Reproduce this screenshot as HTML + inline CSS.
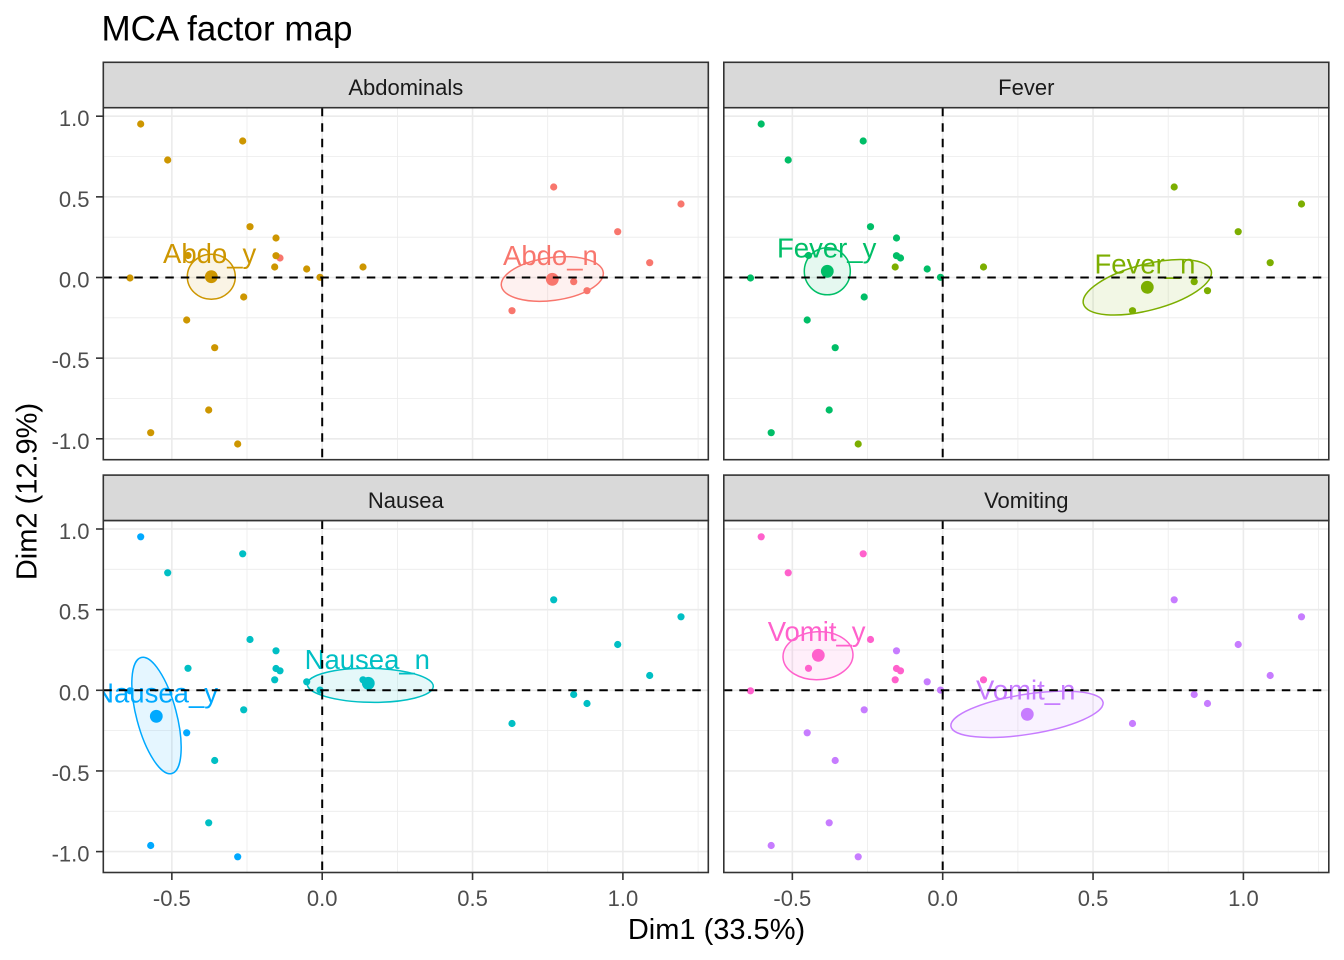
<!DOCTYPE html>
<html>
<head>
<meta charset="utf-8">
<style>
  html, body { margin:0; padding:0; background:#ffffff; }
  svg { display:block; }
  text { font-family: "Liberation Sans", Arial, sans-serif; }
</style>
</head>
<body>
<svg width="1344" height="960" viewBox="0 0 1344 960" xmlns="http://www.w3.org/2000/svg">
  <defs>
    <clipPath id="pc" clipPathUnits="userSpaceOnUse">
      <rect x="103.3" y="107.7" width="605" height="352"/>
    </clipPath>
    <g id="grid">
      <rect x="103.3" y="107.7" width="605" height="352" fill="#ffffff"/>
      <g stroke="#EBEBEB" stroke-width="0.8" fill="none">
        <line x1="247.0" y1="107.7" x2="247.0" y2="459.7"/>
        <line x1="397.4" y1="107.7" x2="397.4" y2="459.7"/>
        <line x1="547.7" y1="107.7" x2="547.7" y2="459.7"/>
        <line x1="698.1" y1="107.7" x2="698.1" y2="459.7"/>
        <line x1="103.3" y1="156.5" x2="708.3" y2="156.5"/>
        <line x1="103.3" y1="237.2" x2="708.3" y2="237.2"/>
        <line x1="103.3" y1="317.8" x2="708.3" y2="317.8"/>
        <line x1="103.3" y1="398.5" x2="708.3" y2="398.5"/>
      </g>
      <g stroke="#EBEBEB" stroke-width="1.6" fill="none">
        <line x1="171.85" y1="107.7" x2="171.85" y2="459.7"/>
        <line x1="322.2" y1="107.7" x2="322.2" y2="459.7"/>
        <line x1="472.55" y1="107.7" x2="472.55" y2="459.7"/>
        <line x1="622.9" y1="107.7" x2="622.9" y2="459.7"/>
        <line x1="103.3" y1="116.2" x2="708.3" y2="116.2"/>
        <line x1="103.3" y1="196.85" x2="708.3" y2="196.85"/>
        <line x1="103.3" y1="277.5" x2="708.3" y2="277.5"/>
        <line x1="103.3" y1="358.15" x2="708.3" y2="358.15"/>
        <line x1="103.3" y1="438.8" x2="708.3" y2="438.8"/>
      </g>
    </g>
    <g id="dash">
      <g stroke="#000000" stroke-width="2" stroke-dasharray="8.5 7" fill="none">
        <line x1="322.2" y1="107.7" x2="322.2" y2="459.7"/>
        <line x1="103.3" y1="277.5" x2="708.3" y2="277.5"/>
      </g>
    </g>
    <g id="frame">
      <rect x="103.3" y="107.7" width="605" height="352" fill="none" stroke="#333333" stroke-width="1.6"/>
      <rect x="103.3" y="62.3" width="605" height="45.4" fill="#D9D9D9" stroke="#333333" stroke-width="1.6"/>
    </g>
  </defs>

  <!-- Title -->
  <text x="101.5" y="40.7" font-size="35" fill="#000000">MCA factor map</text>

  <!-- ================= Panel A: Abdominals ================= -->
  <g>
    <g clip-path="url(#pc)">
      <use href="#grid"/>
      <g fill="#F8766D">
        <circle cx="280" cy="258" r="3.6"/>
        <circle cx="553.7" cy="187" r="3.6"/>
        <circle cx="681" cy="204" r="3.6"/>
        <circle cx="617.7" cy="231.7" r="3.6"/>
        <circle cx="649.7" cy="262.7" r="3.6"/>
        <circle cx="573.7" cy="281.7" r="3.6"/>
        <circle cx="587" cy="290.7" r="3.6"/>
        <circle cx="512" cy="310.7" r="3.6"/>
      </g>
      <g fill="#CD9600">
        <circle cx="140.7" cy="124" r="3.6"/>
        <circle cx="242.7" cy="141" r="3.6"/>
        <circle cx="167.7" cy="160" r="3.6"/>
        <circle cx="250" cy="226.7" r="3.6"/>
        <circle cx="276" cy="238" r="3.6"/>
        <circle cx="188" cy="255.5" r="3.6"/>
        <circle cx="276" cy="255.7" r="3.6"/>
        <circle cx="274.7" cy="267" r="3.6"/>
        <circle cx="306.7" cy="269" r="3.6"/>
        <circle cx="320" cy="277.3" r="3.6"/>
        <circle cx="363" cy="267" r="3.6"/>
        <circle cx="130" cy="278" r="3.6"/>
        <circle cx="243.7" cy="297" r="3.6"/>
        <circle cx="186.7" cy="320" r="3.6"/>
        <circle cx="214.7" cy="347.7" r="3.6"/>
        <circle cx="208.7" cy="410" r="3.6"/>
        <circle cx="150.7" cy="432.7" r="3.6"/>
        <circle cx="237.7" cy="444" r="3.6"/>
      </g>
      <ellipse cx="211.3" cy="276.7" rx="24" ry="22.5" fill="#CD9600" fill-opacity="0.1" stroke="#CD9600" stroke-width="1.5"/>
      <ellipse cx="552.3" cy="279" rx="51.4" ry="21.4" transform="rotate(-7.5 552.3 279)" fill="#F8766D" fill-opacity="0.1" stroke="#F8766D" stroke-width="1.5"/>
      <circle cx="211.3" cy="276.7" r="6.4" fill="#CD9600"/>
      <circle cx="552.3" cy="279.3" r="6.4" fill="#F8766D"/>
      <text x="163" y="263" font-size="27.5" fill="#CD9600">Abdo_y</text>
      <text x="503" y="265" font-size="27.5" fill="#F8766D">Abdo_n</text>
      <use href="#dash"/>
    </g>
    <use href="#frame"/>
    <text x="405.8" y="95" font-size="22" fill="#1A1A1A" text-anchor="middle">Abdominals</text>
  </g>

  <!-- ================= Panel F: Fever ================= -->
  <g transform="translate(620.5,0)">
    <g clip-path="url(#pc)">
      <use href="#grid"/>
      <g fill="#7CAE00">
        <circle cx="274.7" cy="267" r="3.6"/>
        <circle cx="363" cy="267" r="3.6"/>
        <circle cx="237.7" cy="444" r="3.6"/>
        <circle cx="553.7" cy="187" r="3.6"/>
        <circle cx="681" cy="204" r="3.6"/>
        <circle cx="617.7" cy="231.7" r="3.6"/>
        <circle cx="649.7" cy="262.7" r="3.6"/>
        <circle cx="573.7" cy="281.7" r="3.6"/>
        <circle cx="587" cy="290.7" r="3.6"/>
        <circle cx="512" cy="310.7" r="3.6"/>
      </g>
      <g fill="#00BE67">
        <circle cx="140.7" cy="124" r="3.6"/>
        <circle cx="242.7" cy="141" r="3.6"/>
        <circle cx="167.7" cy="160" r="3.6"/>
        <circle cx="250" cy="226.7" r="3.6"/>
        <circle cx="276" cy="238" r="3.6"/>
        <circle cx="188" cy="255.5" r="3.6"/>
        <circle cx="276" cy="255.7" r="3.6"/>
        <circle cx="280" cy="258" r="3.6"/>
        <circle cx="306.7" cy="269" r="3.6"/>
        <circle cx="320" cy="277.3" r="3.6"/>
        <circle cx="130" cy="278" r="3.6"/>
        <circle cx="243.7" cy="297" r="3.6"/>
        <circle cx="186.7" cy="320" r="3.6"/>
        <circle cx="214.7" cy="347.7" r="3.6"/>
        <circle cx="208.7" cy="410" r="3.6"/>
        <circle cx="150.7" cy="432.7" r="3.6"/>
      </g>
      <ellipse cx="206.8" cy="271.3" rx="23" ry="23.5" fill="#00BE67" fill-opacity="0.1" stroke="#00BE67" stroke-width="1.5"/>
      <ellipse cx="526.8" cy="287.3" rx="66" ry="23" transform="rotate(-14.5 526.8 287.3)" fill="#7CAE00" fill-opacity="0.1" stroke="#7CAE00" stroke-width="1.5"/>
      <circle cx="206.8" cy="271.3" r="6.4" fill="#00BE67"/>
      <circle cx="526.8" cy="287.3" r="6.4" fill="#7CAE00"/>
      <text x="156.5" y="257.3" font-size="27.5" fill="#00BE67">Fever_y</text>
      <text x="474" y="273.3" font-size="27.5" fill="#7CAE00">Fever_n</text>
      <use href="#dash"/>
    </g>
    <use href="#frame"/>
    <text x="405.8" y="95" font-size="22" fill="#1A1A1A" text-anchor="middle">Fever</text>
  </g>

  <!-- ================= Panel N: Nausea ================= -->
  <g transform="translate(0,412.8)">
    <g clip-path="url(#pc)">
      <use href="#grid"/>
      <g fill="#00BFC4">
        <circle cx="242.7" cy="141" r="3.6"/>
        <circle cx="167.7" cy="160" r="3.6"/>
        <circle cx="250" cy="226.7" r="3.6"/>
        <circle cx="276" cy="238" r="3.6"/>
        <circle cx="188" cy="255.5" r="3.6"/>
        <circle cx="276" cy="255.7" r="3.6"/>
        <circle cx="280" cy="258" r="3.6"/>
        <circle cx="274.7" cy="267" r="3.6"/>
        <circle cx="306.7" cy="269" r="3.6"/>
        <circle cx="320" cy="277.3" r="3.6"/>
        <circle cx="363" cy="267" r="3.6"/>
        <circle cx="243.7" cy="297" r="3.6"/>
        <circle cx="214.7" cy="347.7" r="3.6"/>
        <circle cx="208.7" cy="410" r="3.6"/>
        <circle cx="553.7" cy="187" r="3.6"/>
        <circle cx="681" cy="204" r="3.6"/>
        <circle cx="617.7" cy="231.7" r="3.6"/>
        <circle cx="649.7" cy="262.7" r="3.6"/>
        <circle cx="573.7" cy="281.7" r="3.6"/>
        <circle cx="587" cy="290.7" r="3.6"/>
        <circle cx="512" cy="310.7" r="3.6"/>
      </g>
      <g fill="#00A9FF">
        <circle cx="140.7" cy="124" r="3.6"/>
        <circle cx="130" cy="278" r="3.6"/>
        <circle cx="186.7" cy="320" r="3.6"/>
        <circle cx="150.7" cy="432.7" r="3.6"/>
        <circle cx="237.7" cy="444" r="3.6"/>
      </g>
      <ellipse cx="156.5" cy="302.7" rx="20" ry="60" transform="rotate(-14.8 156.5 302.7)" fill="#00A9FF" fill-opacity="0.1" stroke="#00A9FF" stroke-width="1.5"/>
      <ellipse cx="370.3" cy="272.5" rx="63" ry="17" transform="rotate(1 370.3 272.5)" fill="#00BFC4" fill-opacity="0.1" stroke="#00BFC4" stroke-width="1.5"/>
      <circle cx="156.3" cy="303.5" r="6.4" fill="#00A9FF"/>
      <circle cx="368.3" cy="270.5" r="6.4" fill="#00BFC4"/>
      <text x="218" y="289.5" font-size="27.5" fill="#00A9FF" text-anchor="end">Nausea_y</text>
      <text x="304.6" y="256.2" font-size="27.5" fill="#00BFC4">Nausea_n</text>
      <use href="#dash"/>
    </g>
    <use href="#frame"/>
    <text x="405.8" y="95" font-size="22" fill="#1A1A1A" text-anchor="middle">Nausea</text>
  </g>

  <!-- ================= Panel V: Vomiting ================= -->
  <g transform="translate(620.5,412.8)">
    <g clip-path="url(#pc)">
      <use href="#grid"/>
      <g fill="#C77CFF">
        <circle cx="276" cy="238" r="3.6"/>
        <circle cx="306.7" cy="269" r="3.6"/>
        <circle cx="320" cy="277.3" r="3.6"/>
        <circle cx="243.7" cy="297" r="3.6"/>
        <circle cx="186.7" cy="320" r="3.6"/>
        <circle cx="214.7" cy="347.7" r="3.6"/>
        <circle cx="208.7" cy="410" r="3.6"/>
        <circle cx="150.7" cy="432.7" r="3.6"/>
        <circle cx="237.7" cy="444" r="3.6"/>
        <circle cx="553.7" cy="187" r="3.6"/>
        <circle cx="681" cy="204" r="3.6"/>
        <circle cx="617.7" cy="231.7" r="3.6"/>
        <circle cx="649.7" cy="262.7" r="3.6"/>
        <circle cx="573.7" cy="281.7" r="3.6"/>
        <circle cx="587" cy="290.7" r="3.6"/>
        <circle cx="512" cy="310.7" r="3.6"/>
      </g>
      <g fill="#FF61CC">
        <circle cx="140.7" cy="124" r="3.6"/>
        <circle cx="242.7" cy="141" r="3.6"/>
        <circle cx="167.7" cy="160" r="3.6"/>
        <circle cx="250" cy="226.7" r="3.6"/>
        <circle cx="188" cy="255.5" r="3.6"/>
        <circle cx="276" cy="255.7" r="3.6"/>
        <circle cx="280" cy="258" r="3.6"/>
        <circle cx="274.7" cy="267" r="3.6"/>
        <circle cx="363" cy="267" r="3.6"/>
        <circle cx="130" cy="278" r="3.6"/>
      </g>
      <ellipse cx="197.5" cy="242.9" rx="35" ry="24" transform="rotate(-3 197.5 242.9)" fill="#FF61CC" fill-opacity="0.1" stroke="#FF61CC" stroke-width="1.5"/>
      <ellipse cx="406.5" cy="301.5" rx="77" ry="20" transform="rotate(-9 406.5 301.5)" fill="#C77CFF" fill-opacity="0.1" stroke="#C77CFF" stroke-width="1.5"/>
      <circle cx="197.8" cy="242.5" r="6.4" fill="#FF61CC"/>
      <circle cx="406.8" cy="301.5" r="6.4" fill="#C77CFF"/>
      <text x="147.2" y="228.2" font-size="27.5" fill="#FF61CC">Vomit_y</text>
      <text x="355.5" y="286.5" font-size="27.5" fill="#C77CFF">Vomit_n</text>
      <use href="#dash"/>
    </g>
    <use href="#frame"/>
    <text x="405.8" y="95" font-size="22" fill="#1A1A1A" text-anchor="middle">Vomiting</text>
  </g>

  <!-- ================= Y axis ticks + labels ================= -->
  <g stroke="#333333" stroke-width="1.6">
    <line x1="96" y1="116.2" x2="103.3" y2="116.2"/>
    <line x1="96" y1="196.85" x2="103.3" y2="196.85"/>
    <line x1="96" y1="277.5" x2="103.3" y2="277.5"/>
    <line x1="96" y1="358.15" x2="103.3" y2="358.15"/>
    <line x1="96" y1="438.8" x2="103.3" y2="438.8"/>
    <line x1="96" y1="529" x2="103.3" y2="529"/>
    <line x1="96" y1="609.65" x2="103.3" y2="609.65"/>
    <line x1="96" y1="690.3" x2="103.3" y2="690.3"/>
    <line x1="96" y1="770.95" x2="103.3" y2="770.95"/>
    <line x1="96" y1="851.6" x2="103.3" y2="851.6"/>
  </g>
  <g font-size="22" fill="#4D4D4D" text-anchor="end">
    <text x="89.5" y="126.2">1.0</text>
    <text x="89.5" y="206.85">0.5</text>
    <text x="89.5" y="287.5">0.0</text>
    <text x="89.5" y="368.15">-0.5</text>
    <text x="89.5" y="448.8">-1.0</text>
    <text x="89.5" y="539">1.0</text>
    <text x="89.5" y="619.65">0.5</text>
    <text x="89.5" y="700.3">0.0</text>
    <text x="89.5" y="780.95">-0.5</text>
    <text x="89.5" y="861.6">-1.0</text>
  </g>

  <!-- ================= X axis ticks + labels ================= -->
  <g stroke="#333333" stroke-width="1.6">
    <line x1="171.85" y1="872.5" x2="171.85" y2="880"/>
    <line x1="322.2" y1="872.5" x2="322.2" y2="880"/>
    <line x1="472.55" y1="872.5" x2="472.55" y2="880"/>
    <line x1="622.9" y1="872.5" x2="622.9" y2="880"/>
    <line x1="792.35" y1="872.5" x2="792.35" y2="880"/>
    <line x1="942.7" y1="872.5" x2="942.7" y2="880"/>
    <line x1="1093.05" y1="872.5" x2="1093.05" y2="880"/>
    <line x1="1243.4" y1="872.5" x2="1243.4" y2="880"/>
  </g>
  <g font-size="22" fill="#4D4D4D" text-anchor="middle">
    <text x="171.85" y="906">-0.5</text>
    <text x="322.2" y="906">0.0</text>
    <text x="472.55" y="906">0.5</text>
    <text x="622.9" y="906">1.0</text>
    <text x="792.35" y="906">-0.5</text>
    <text x="942.7" y="906">0.0</text>
    <text x="1093.05" y="906">0.5</text>
    <text x="1243.4" y="906">1.0</text>
  </g>

  <!-- Axis titles -->
  <text x="716.5" y="939" font-size="29" fill="#000000" text-anchor="middle">Dim1 (33.5%)</text>
  <text transform="translate(36.5,491.5) rotate(-90)" x="0" y="0" font-size="29" fill="#000000" text-anchor="middle">Dim2 (12.9%)</text>
</svg>
</body>
</html>
